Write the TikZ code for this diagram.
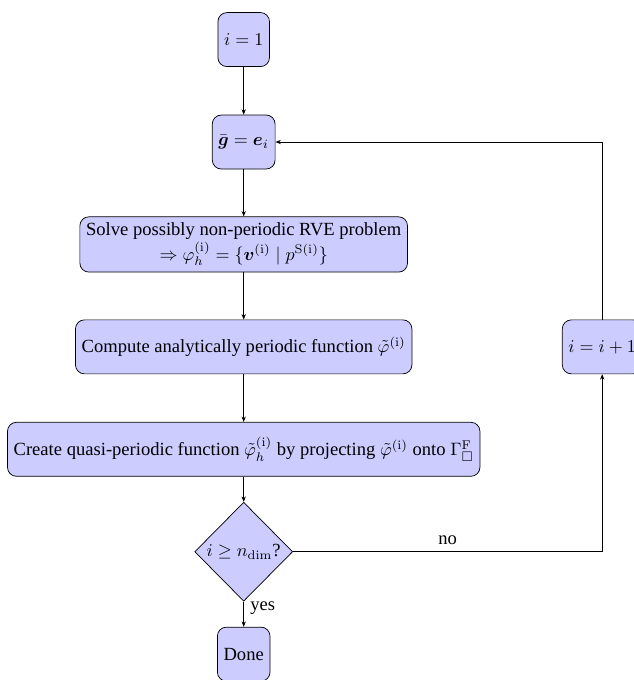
\documentclass[tikz,border=0pt]{standalone}
\usepackage{amsmath,amssymb}
\usepackage[no-math]{fontspec}
\setmainfont{Liberation Serif}[Scale=1.032]
\usetikzlibrary{shapes.geometric,arrows.meta}

\begin{document}
\begin{tikzpicture}[
  proc/.style={rectangle, rounded corners=5pt, draw=black, fill=blue!20, minimum height=30pt, align=center, font=\fontsize{10}{12}\selectfont},
  decis/.style={diamond, draw=black, fill=blue!20, minimum width=54.4pt, minimum height=55pt, inner sep=0pt, font=\fontsize{10}{12}\selectfont},
  arr/.style={-{Stealth[length=3pt,width=2.4pt]}, line width=0.4pt},
  lbl/.style={font=\fontsize{10}{12}\selectfont}
]
\useasboundingbox (-135.4pt,22pt) rectangle (216.3pt,-355.8pt);
\node[proc] (start) at (0,0) {$i=1$};
\node[proc] (g) at (0,-2cm) {$\bar{\boldsymbol{g}}=\boldsymbol{e}_i$};
\node[proc] (solve) at (0,-4cm) {Solve possibly non-periodic RVE problem\\ $\Rightarrow \varphi_h^{(\mathrm{i})} = \{\boldsymbol{v}^{(\mathrm{i})} \mid p^{\mathrm{S}(\mathrm{i})}\}$};
\node[proc] (comp) at (0,-6cm) {Compute analytically periodic function $\tilde{\varphi}^{(\mathrm{i})}$};
\node[proc] (create) at (0,-8cm) {Create quasi-periodic function $\tilde{\varphi}_h^{(\mathrm{i})}$ by projecting $\tilde{\varphi}^{(\mathrm{i})}$ onto $\Gamma^{\mathrm{F}}_{\square}$};
\node[decis] (dec) at (0,-10cm) {$i \geq n_{\mathrm{dim}}$?};
\node[proc] (done) at (0,-12cm) {Done};
\node[proc] (inc) at (7cm,-6cm) {$i=i+1$};
\draw[arr] (start) -- (g);
\draw[arr] (g) -- (solve);
\draw[arr] (solve) -- (comp);
\draw[arr] (comp) -- (create);
\draw[arr] (create) -- (dec);
\draw[arr] (dec) -- node[lbl, pos=0.25, right] {yes} (done);
\draw[arr] (dec) -| node[lbl, pos=0.25, above] {no} (inc);
\draw[arr] (inc) |- (g);
\end{tikzpicture}
\end{document}
